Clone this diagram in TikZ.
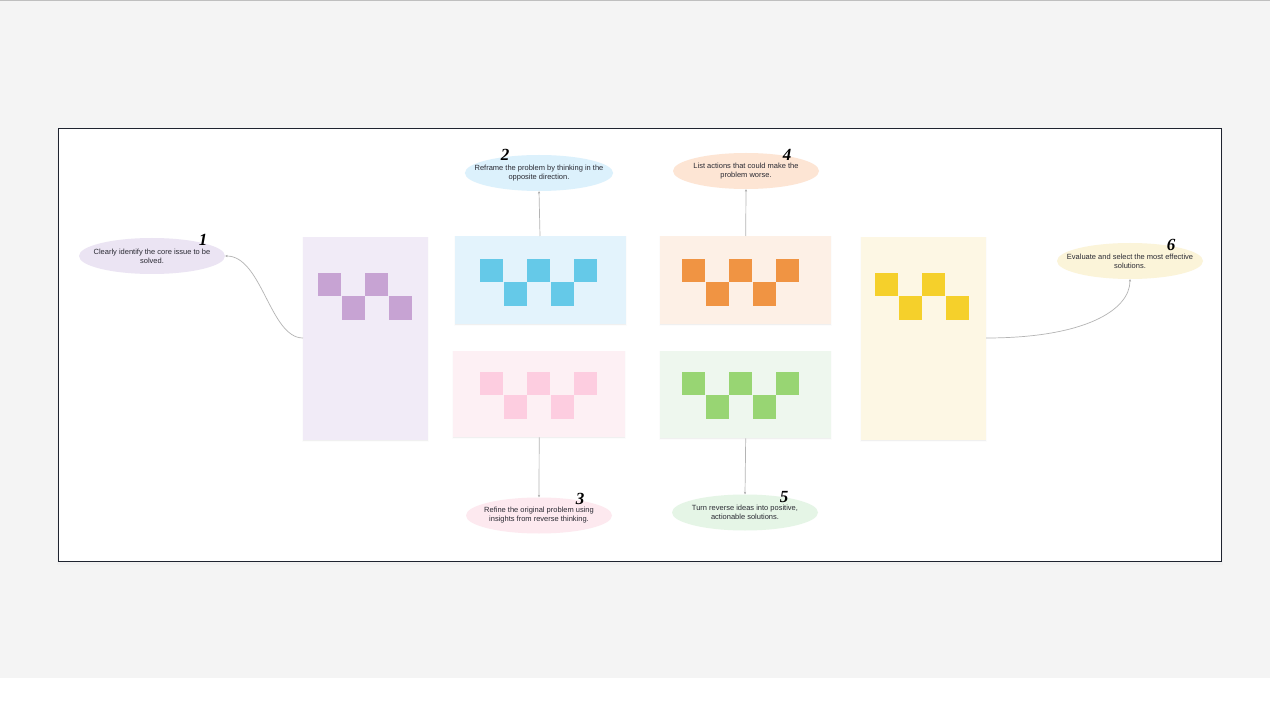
\documentclass[tikz,border=0pt]{standalone}
\usepackage{fontspec}
\setmainfont{Liberation Sans}
\newfontfamily\numfont{Liberation Serif}
\usetikzlibrary{arrows.meta,shapes.geometric}
\definecolor{bggray}{HTML}{F4F4F4}
\definecolor{framec}{HTML}{1F2430}
\definecolor{conn}{HTML}{B4B4B4}
\definecolor{txt}{HTML}{2A2A33}
\definecolor{pP}{HTML}{F1EBF7}\definecolor{sP}{HTML}{C7A3D3}\definecolor{eP}{HTML}{EBE4F3}
\definecolor{pB}{HTML}{E3F3FC}\definecolor{sB}{HTML}{65C9E8}\definecolor{eB}{HTML}{DCF1FC}
\definecolor{pK}{HTML}{FDF0F4}\definecolor{sK}{HTML}{FDCDE0}\definecolor{eK}{HTML}{FDE9EF}
\definecolor{pO}{HTML}{FDF0E6}\definecolor{sO}{HTML}{F09443}\definecolor{eO}{HTML}{FDE5D4}
\definecolor{pG}{HTML}{EEF7EE}\definecolor{sG}{HTML}{98D573}\definecolor{eG}{HTML}{E5F5E6}
\definecolor{pY}{HTML}{FDF7E4}\definecolor{sY}{HTML}{F5D02B}\definecolor{eY}{HTML}{FBF4D9}
\tikzset{
  panel/.style={rectangle, draw=none, inner sep=0pt, anchor=north west,
    preaction={fill=black, opacity=0.05, transform canvas={shift={(0pt,-1pt)}}, draw=black!20, line width=2pt}},
  bubble/.style={ellipse, draw=none, minimum width=146pt, minimum height=36pt, inner xsep=-12pt, inner ysep=-3pt,
    font=\fontsize{7.5pt}{9pt}\selectfont, text=txt, align=center},
  num/.style={font=\numfont\itshape\bfseries\fontsize{17pt}{17pt}\selectfont, text=black, inner sep=0pt},
  link/.style={draw=conn, line width=0.7pt, -{Stealth[length=2.5pt,width=2.2pt,fill=black!70]}},
}
\newcommand{\sqwave}[4]{% x, y, count, colour
  \foreach \i in {1,...,#3}{
    \pgfmathsetmacro{\xx}{#1+(\i-1)*23.5}
    \pgfmathsetmacro{\yy}{#2+mod(\i-1,2)*23.3}
    \fill[#4] (\xx,\yy) rectangle ++(23.3,23.3);
  }}
\begin{document}
\begin{tikzpicture}[x=1pt,y=-1pt]
\useasboundingbox (0,0) rectangle (1270,714);
\fill[white] (0,0) rectangle (1270,714);
\fill[bggray] (0,1.5) rectangle (1270,678);
\draw[black!25, line width=1.5pt] (0,0.75) -- (1270,0.75);
% frame
\fill[black!6] (57,129) rectangle (1223,565);
\node[draw=framec, fill=white, line width=0.9pt, minimum width=1163pt, minimum height=433pt, inner sep=0pt, anchor=north west] (frame) at (58,128) {};
% panels
\node[panel, fill=pP, minimum width=125pt, minimum height=203pt] (pP) at (303,237) {};
\node[panel, fill=pB, minimum width=171pt, minimum height=88pt] (pB) at (455,236) {};
\node[panel, fill=pK, minimum width=172pt, minimum height=86pt] (pK) at (453,351) {};
\node[panel, fill=pO, minimum width=171pt, minimum height=88pt] (pO) at (660,236) {};
\node[panel, fill=pG, minimum width=171pt, minimum height=87pt] (pG) at (660,351) {};
\node[panel, fill=pY, minimum width=125pt, minimum height=203pt] (pY) at (861,237) {};
% squares
\sqwave{318}{273}{4}{sP}
\sqwave{480}{259}{5}{sB}
\sqwave{480}{372}{5}{sK}
\sqwave{682}{259}{5}{sO}
\sqwave{682}{372}{5}{sG}
\sqwave{875}{273}{4}{sY}
% bubbles
\node[bubble, fill=eP] (e1) at (152,256) {Clearly identify the core issue to be\\solved.};
\node[bubble, fill=eB] (e2) at (539,173) {Reframe the problem by thinking in the\\opposite direction.};
\node[bubble, fill=eO] (e4) at (746,171) {List actions that could make the\\problem worse.};
\node[bubble, fill=eK] (e3) at (539,515.5) {Refine the original problem using\\insights from reverse thinking.};
\node[bubble, fill=eG] (e5) at (745,512.5) {Turn reverse ideas into positive,\\actionable solutions.};
\node[bubble, fill=eY] (e6) at (1130,261) {Evaluate and select the most effective\\solutions.};
% numbers
\node[num] (n1) at (203,240) {1};
\node[num] (n2) at (505,155) {2};
\node[num] (n4) at (787,155) {4};
\node[num] (n3) at (580,499) {3};
\node[num] (n5) at (784,497) {5};
\node[num] (n6) at (1171,245) {6};
% connectors
\coordinate (c1) at (303,338);
\coordinate (c6) at (986,338);
\draw[link] (c1) .. controls (270,338) and (262,256) .. (e1.east);
\draw[link] (pB.north -| e2.south) ++(1,0) -- (e2.south);
\draw[link] (pO.north) -- (e4.south);
\draw[link] (pK.south) -- (e3.north);
\draw[link] (pG.south) -- (e5.north);
\draw[link] (c6) .. controls (1085,338) and (1130,310) .. (e6.south);
\end{tikzpicture}
\end{document}
